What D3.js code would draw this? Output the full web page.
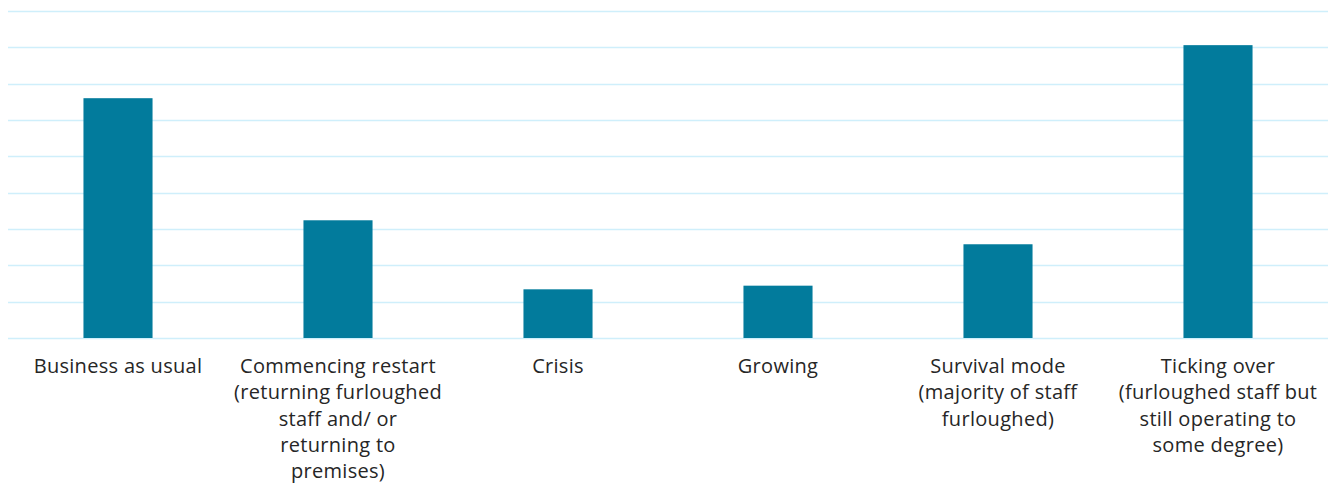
<!DOCTYPE html>
<html>
<head>
<meta charset="utf-8">
<script src="https://cdn.jsdelivr.net/npm/d3@7"></script>
<style>
  body { margin: 0; background: #fff; }
  .cat-label { font-family: "Open Sans", sans-serif; font-size: 20px; letter-spacing: 0.3px; fill: #262626; }
</style>
</head>
<body>
<div id="chart"></div>
<script>
// categories and how each label is broken into lines
const categories = [
  'Business as usual',
  'Commencing restart (returning furloughed staff and/ or returning to premises)',
  'Crisis',
  'Growing',
  'Survival mode (majority of staff furloughed)',
  'Ticking over (furloughed staff but still operating to some degree)'
];
const labelLines = [
  ['Business as usual'],
  ['Commencing restart', '(returning furloughed', 'staff and/ or', 'returning to', 'premises)'],
  ['Crisis'],
  ['Growing'],
  ['Survival mode', '(majority of staff', 'furloughed)'],
  ['Ticking over', '(furloughed staff but', 'still operating to', 'some degree)']
];
const values = [33.0, 16.2, 6.7, 7.2, 12.9, 40.3];
const gridTicks = [0, 5, 10, 15, 20, 25, 30, 35, 40, 45];

const width = 1331, height = 485;
const margin = { top: 11, right: 3, bottom: 147, left: 8 };
const innerW = width - margin.left - margin.right;
const innerH = height - margin.top - margin.bottom;

const svg = d3.select('#chart').append('svg')
  .attr('width', width)
  .attr('height', height);

const chart = svg.append('g')
  .attr('transform', `translate(${margin.left},${margin.top})`);

const x = d3.scaleBand()
  .domain(categories)
  .range([0, 1320])
  .paddingInner(0.686)
  .paddingOuter(0.343);

const y = d3.scaleLinear()
  .domain([0, 45])
  .range([innerH, 0]);

// gridlines
chart.selectAll('.grid')
  .data(gridTicks)
  .join('line')
  .attr('class', 'grid')
  .attr('x1', 0)
  .attr('x2', innerW)
  .attr('y1', d => Math.round(y(d)) + 0.5)
  .attr('y2', d => Math.round(y(d)) + 0.5)
  .attr('stroke', '#cfeffb')
  .attr('stroke-width', 1.5);

// bars
chart.selectAll('.bar')
  .data(values)
  .join('rect')
  .attr('class', 'bar')
  .attr('x', (d, i) => x(categories[i]))
  .attr('width', x.bandwidth())
  .attr('y', d => y(d))
  .attr('height', d => y(0) - y(d))
  .attr('fill', '#027b9c');

// category labels
const labels = chart.selectAll('.cat-label')
  .data(categories)
  .join('text')
  .attr('class', 'cat-label')
  .attr('text-anchor', 'middle')
  .attr('x', d => x(d) + x.bandwidth() / 2)
  .attr('y', innerH + 35);

labels.each(function (d, i) {
  const t = d3.select(this);
  labelLines[i].forEach((line, j) => {
    t.append('tspan')
      .attr('x', x(d) + x.bandwidth() / 2)
      .attr('dy', j === 0 ? 0 : 26.3)
      .text(line);
  });
});
</script>
</body>
</html>
